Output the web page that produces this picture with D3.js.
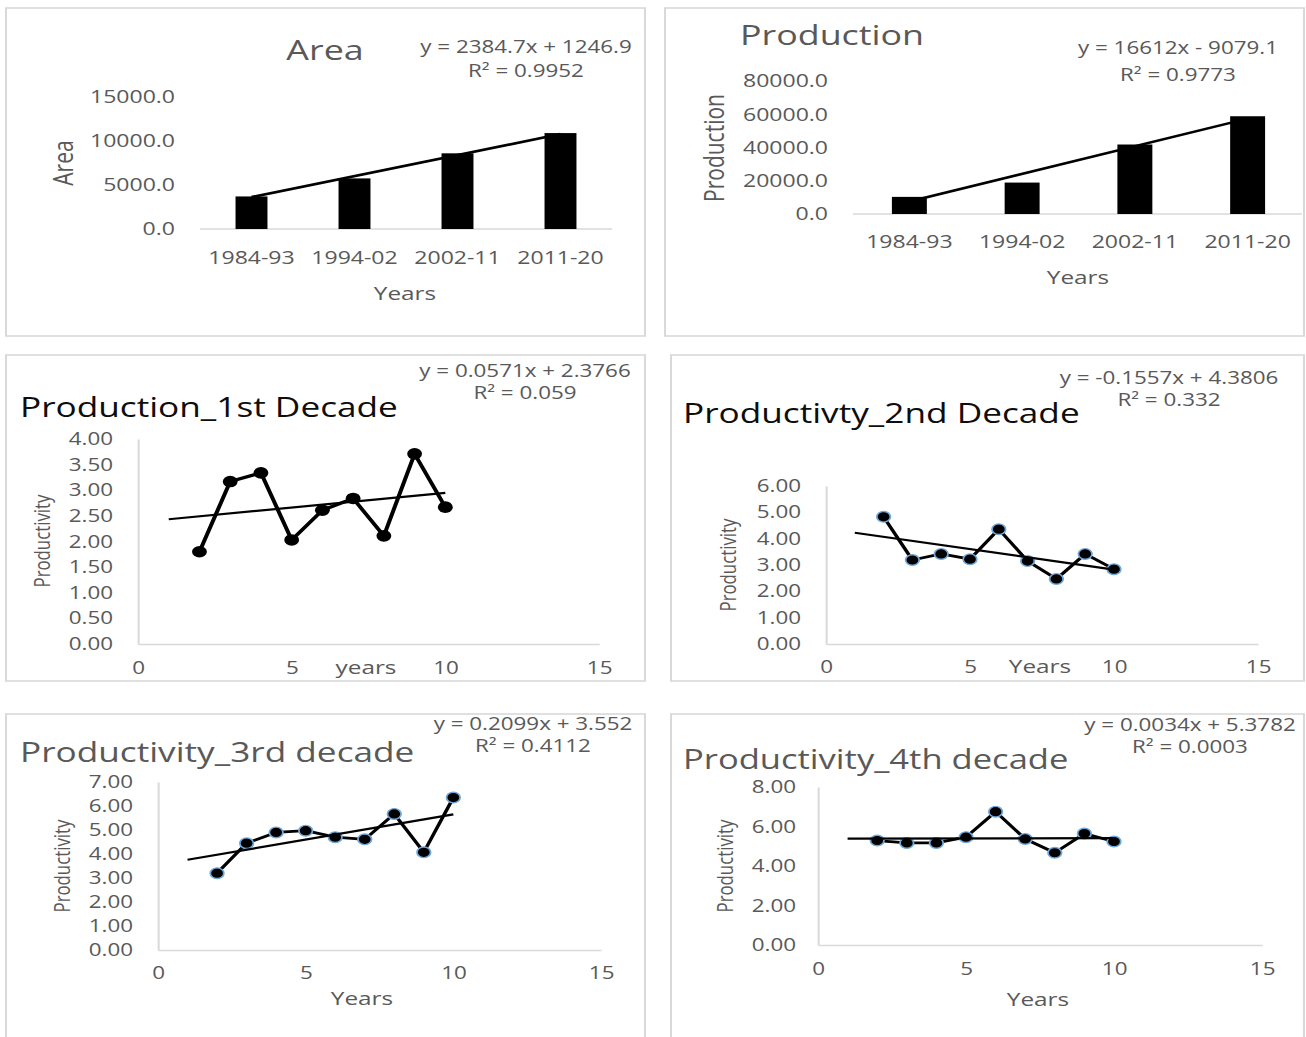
<!DOCTYPE html>
<html>
<head>
<meta charset="utf-8">
<script src="https://cdn.jsdelivr.net/npm/d3@7"></script>
<style>
  html, body { margin: 0; padding: 0; background: #fff; }
  svg { display: block; }
  text { font-family: "Open Sans", sans-serif; }
</style>
</head>
<body>
<svg id="chart" width="1306" height="1037"></svg>
<script>
// ---- data ----
const periods = ["1984-93", "1994-02", "2002-11", "2011-20"];
const areaValues = [3700, 5750, 8600, 10900];
const productionValues = [10300, 18900, 41800, 58800];
const areaTicks = [0, 5000, 10000, 15000];
const productionTicks = [0, 20000, 40000, 60000, 80000];
const areaFit = [2384.7, 1246.9];
const areaR2 = 0.9952;
const productionFit = [16612, -9079.1];
const productionR2 = 0.9773;

const years = [2, 3, 4, 5, 6, 7, 8, 9, 10];
const yearTicks = [0, 5, 10, 15];

const decade1 = [1.80, 3.17, 3.34, 2.03, 2.61, 2.84, 2.11, 3.71, 2.67];
const decade1Ticks = [0, 0.5, 1, 1.5, 2, 2.5, 3, 3.5, 4];
const decade1Fit = [0.0571, 2.3766];
const decade1R2 = 0.059;

const decade2 = [4.83, 3.19, 3.42, 3.22, 4.36, 3.15, 2.47, 3.42, 2.84];
const decade2Ticks = [0, 1, 2, 3, 4, 5, 6];
const decade2Fit = [-0.1557, 4.3806];
const decade2R2 = 0.332;

const decade3 = [3.20, 4.45, 4.90, 4.97, 4.70, 4.61, 5.67, 4.07, 6.35];
const decade3Ticks = [0, 1, 2, 3, 4, 5, 6, 7];
const decade3Fit = [0.2099, 3.552];
const decade3R2 = 0.4112;

const decade4 = [5.29, 5.17, 5.17, 5.46, 6.75, 5.37, 4.67, 5.64, 5.24];
const decade4Ticks = [0, 2, 4, 6, 8];
const decade4Fit = [0.0034, 5.3782];
const decade4R2 = 0.0003;

// ---- drawing ----
// The figure is rendered with a slight horizontal stretch; x positions below are in page pixels.
const S = 1.28;
const X = v => v / S;
const GRAY = "#595959", LINE = "#d9d9d9", DARK = "#0d0d0d";
const FONT = "Open Sans";

const svg = d3.select("#chart");
svg.append("rect").attr("width", 1306).attr("height", 1037).attr("fill", "#fff");
const root = svg.append("g").attr("transform", `scale(${S},1)`);

function frame(b) {
  root.append("rect")
    .attr("x", X(b[0])).attr("y", b[1])
    .attr("width", X(b[2] - b[0])).attr("height", b[3] - b[1])
    .attr("fill", "#fff").attr("stroke", LINE).attr("stroke-width", 1.6);
}

function label(x, y, str, size, anchor = "start", fill = GRAY) {
  return root.append("text")
    .attr("x", X(x)).attr("y", y)
    .attr("font-size", size).attr("fill", fill)
    .attr("text-anchor", anchor).text(str);
}

function vlabel(cx, cy, str, size) {
  root.append("text")
    .attr("transform", `translate(${X(cx)},${cy}) rotate(-90)`)
    .attr("text-anchor", "middle").attr("dy", "0.36em")
    .attr("font-size", size).attr("fill", GRAY).text(str);
}

const eqText = f => `y = ${f[0]}x ${f[1] < 0 ? "-" : "+"} ${Math.abs(f[1])}`;

function equation(cx, b1, b2, fit, r2) {
  label(cx, b1, eqText(fit), 17.5, "middle");
  label(cx, b2, `R² = ${r2}`, 17.5, "middle");
}

function styleAxis(g, size) {
  g.attr("font-family", FONT).attr("font-size", size);
  g.selectAll("text").attr("fill", GRAY);
}

function barPanel(c, values, ticks, fit, r2) {
  frame(c.box);
  const x = d3.scaleBand().domain(periods)
    .range([X(c.x0), X(c.x1)]).paddingInner(0.69).paddingOuter(0.345);
  const y = d3.scaleLinear().domain([0, d3.max(ticks)]).range([c.yBase, c.yTop]);

  root.append("line")
    .attr("x1", X(c.x0)).attr("x2", X(c.lineEnd))
    .attr("y1", c.yBase).attr("y2", c.yBase)
    .attr("stroke", LINE).attr("stroke-width", 1.6);

  const ya = root.append("g").attr("transform", `translate(${X(c.x0)},0)`)
    .call(d3.axisLeft(y).tickValues(ticks).tickFormat(d3.format(".1f"))
      .tickSize(0).tickPadding(X(25)));
  ya.select(".domain").remove();
  styleAxis(ya, 18);

  const xa = root.append("g").attr("transform", `translate(0,${c.yBase})`)
    .call(d3.axisBottom(x).tickSize(0).tickPadding(c.catPad));
  xa.select(".domain").remove();
  styleAxis(xa, 18);

  root.append("g").selectAll("rect").data(values).join("rect")
    .attr("x", (d, i) => x(periods[i]))
    .attr("y", d => y(d))
    .attr("width", x.bandwidth())
    .attr("height", d => c.yBase - y(d))
    .attr("fill", "#000");

  const half = x.bandwidth() / 2;
  const tx = d3.scaleLinear().domain([1, periods.length])
    .range([x(periods[0]) + half, x(periods[periods.length - 1]) + half]);
  root.append("line")
    .attr("x1", tx(1)).attr("y1", y(fit[0] * 1 + fit[1]))
    .attr("x2", tx(periods.length)).attr("y2", y(fit[0] * periods.length + fit[1]))
    .attr("stroke", "#000").attr("stroke-width", 2.6);

  label(c.title[0], c.title[1], c.title[2], 28, c.title[3]);
  equation(c.eq[0], c.eq[1], c.eq[2], fit, r2);
  vlabel(c.ylab[0], c.ylab[1], c.ylab[2], 21);
  label(c.xlab[0], c.xlab[1], "Years", 19, "middle");
}

function scatterPanel(c, values, ticks, fit, r2) {
  frame(c.box);
  const x = d3.scaleLinear().domain([0, 15]).range([X(c.x0), X(c.x15)]);
  const y = d3.scaleLinear().domain([0, d3.max(ticks)]).range([c.y0, c.yTop]);

  const ya = root.append("g").attr("transform", `translate(${X(c.x0)},0)`)
    .call(d3.axisLeft(y).tickValues(ticks).tickFormat(d3.format(".2f"))
      .tickSize(0).tickPadding(X(c.ypad)));
  ya.select(".domain").attr("stroke", LINE).attr("stroke-width", 1.6);
  styleAxis(ya, 17.5);

  const xa = root.append("g").attr("transform", `translate(0,${c.y0})`)
    .call(d3.axisBottom(x).tickValues(yearTicks).tickSize(0).tickPadding(c.xpad));
  xa.select(".domain").attr("stroke", LINE).attr("stroke-width", 1.6);
  styleAxis(xa, 17.5);

  const line = d3.line().x((d, i) => x(years[i])).y(d => y(d));
  root.append("path").datum(values)
    .attr("d", line).attr("fill", "none")
    .attr("stroke", "#000").attr("stroke-width", c.lw)
    .attr("stroke-linejoin", "round");

  root.append("g").selectAll("circle").data(values).join("circle")
    .attr("cx", (d, i) => x(years[i])).attr("cy", d => y(d))
    .attr("r", c.r).attr("fill", "#000")
    .attr("stroke", c.ring || "none").attr("stroke-width", 1.4);

  const first = 1, last = d3.max(years);
  root.append("line")
    .attr("x1", x(first)).attr("y1", y(fit[0] * first + fit[1]))
    .attr("x2", x(last)).attr("y2", y(fit[0] * last + fit[1]))
    .attr("stroke", "#000").attr("stroke-width", 2.2);

  label(c.title[0], c.title[1], c.title[2], c.tsize || 27.5, "start", c.title[3]);
  equation(c.eq[0], c.eq[1], c.eq[2], fit, r2);
  vlabel(c.ylab[0], c.ylab[1], "Productivity", 16.8);
  label(c.xlab[0], c.xlab[1], c.xlab[2], 19, "middle");
}

barPanel({
  box: [6, 8, 645, 336], x0: 200, x1: 612, lineEnd: 612, yBase: 229, yTop: 97, catPad: 22.6,
  title: [325, 60, "Area", "middle"], eq: [526, 53, 77], ylab: [63, 163, "Area"], xlab: [405, 300]
}, areaValues, areaTicks, areaFit, areaR2);

barPanel({
  box: [665, 8, 1304, 336], x0: 853, x1: 1304, lineEnd: 1302, yBase: 214, yTop: 81, catPad: 21.6,
  title: [740, 45, "Production", "start"], eq: [1178, 54, 81], ylab: [714, 148, "Production"], xlab: [1078, 284]
}, productionValues, productionTicks, productionFit, productionR2);

scatterPanel({
  box: [6, 355, 645, 681], x0: 138, x15: 599, y0: 644, yTop: 439, ypad: 25, xpad: 17.5,
  r: 5.8, lw: 3.2,
  title: [20, 417, "Production_1st Decade", DARK], eq: [525, 377, 399],
  ylab: [42, 541], xlab: [366, 674, "years"]
}, decade1, decade1Ticks, decade1Fit, decade1R2);

scatterPanel({
  box: [671, 355, 1304, 681], x0: 826, x15: 1258, y0: 644, yTop: 486, ypad: 25, xpad: 16.6,
  r: 5.3, lw: 2.8, ring: "#6fa8dc",
  title: [683, 423, "Productivty_2nd Decade", DARK], eq: [1169, 384, 406],
  ylab: [728, 565], xlab: [1040, 673, "Years"]
}, decade2, decade2Ticks, decade2Fit, decade2R2);

scatterPanel({
  box: [6, 714, 645, 1045], x0: 158, x15: 601, y0: 950, yTop: 782, ypad: 25, xpad: 16.6,
  r: 5.3, lw: 2.8, ring: "#6fa8dc",
  title: [20, 762, "Productivity_3rd decade", GRAY], eq: [533, 730, 752],
  ylab: [62, 866], xlab: [362, 1005, "Years"]
}, decade3, decade3Ticks, decade3Fit, decade3R2);

scatterPanel({
  box: [671, 714, 1304, 1045], x0: 818, x15: 1262, y0: 945, yTop: 787, ypad: 22, xpad: 17.6,
  r: 5.3, lw: 2.8, ring: "#6fa8dc", tsize: 27,
  title: [683, 769, "Productivity_4th decade", GRAY], eq: [1190, 731, 753],
  ylab: [725, 866], xlab: [1038, 1006, "Years"]
}, decade4, decade4Ticks, decade4Fit, decade4R2);
</script>
</body>
</html>
